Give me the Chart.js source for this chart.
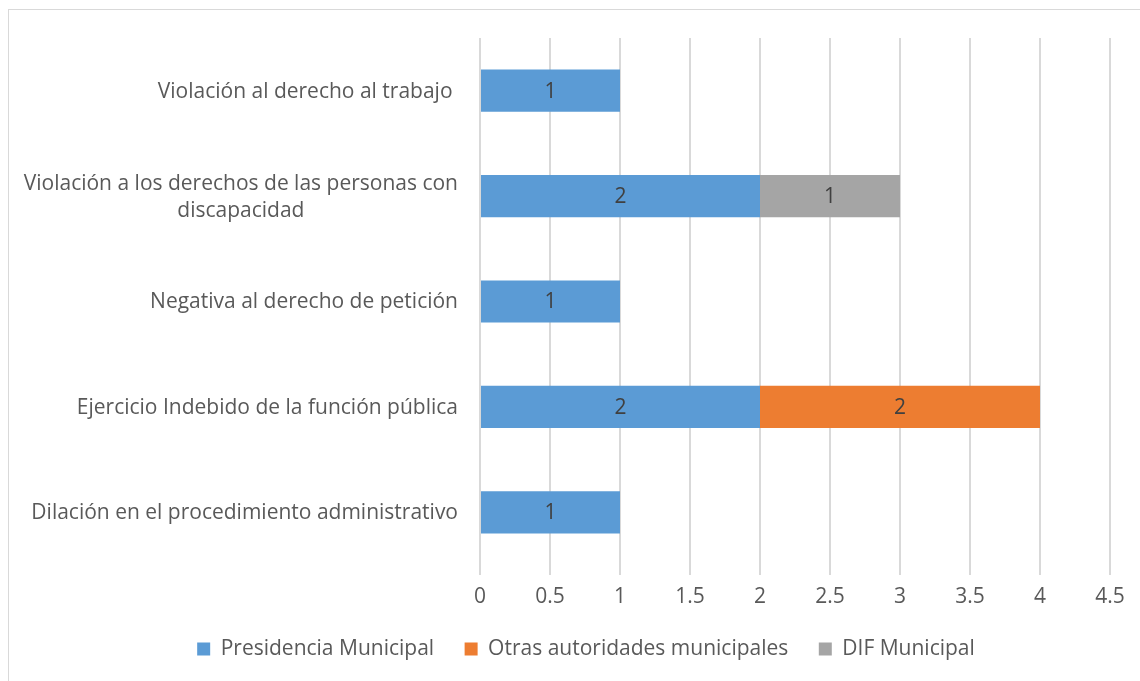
<!DOCTYPE html>
<html>
<head>
<meta charset="utf-8">
<script src="https://cdn.jsdelivr.net/npm/chart.js@4/dist/chart.umd.min.js"></script>
<style>
  html, body { margin: 0; padding: 0; background: #fff; }
  #frame {
    position: absolute; left: 8px; top: 9px; width: 1140px; height: 680px;
    border-left: 1px solid #d9d9d9; border-top: 1px solid #d9d9d9;
  }
  #wrap { position: absolute; left: 0; top: 0; width: 1140px; height: 681px; }
</style>
</head>
<body>
<div id="frame"></div>
<div id="wrap"><canvas id="chart"></canvas></div>
<script>
const categories = [
  "Violación al derecho al trabajo ",
  ["Violación a los derechos de las personas con", "discapacidad"],
  "Negativa al derecho de petición",
  "Ejercicio Indebido de la función pública",
  "Dilación en el procedimiento administrativo"
];
const presidencia = [1, 2, 1, 2, 1];
const otras = [0, 0, 0, 2, 0];
const dif = [0, 1, 0, 0, 0];
const xTicks = [0, 0.5, 1, 1.5, 2, 2.5, 3, 3.5, 4, 4.5];

const FONT = "'Open Sans', sans-serif";
const SIZE = 21;
const TEXT = "#595959";

// value labels in the middle of each bar (zeros skipped)
const barLabels = {
  id: "barLabels",
  afterDatasetsDraw(chart) {
    const ctx = chart.ctx;
    ctx.save();
    ctx.font = SIZE + "px " + FONT;
    ctx.fillStyle = "#404040";
    ctx.textAlign = "center";
    ctx.textBaseline = "middle";
    chart.data.datasets.forEach((ds, i) => {
      chart.getDatasetMeta(i).data.forEach((bar, j) => {
        const v = ds.data[j];
        if (!v) return;
        ctx.fillText(String(v), (bar.x + bar.base) / 2, bar.y + 1);
      });
    });
    ctx.restore();
  }
};

// category labels: right aligned, lines of a wrapped label centred on each other
const catLabels = {
  id: "catLabels",
  afterDraw(chart) {
    const ctx = chart.ctx;
    const y = chart.scales.y;
    const right = chart.chartArea.left - 22;
    const lh = 27;
    ctx.save();
    ctx.font = SIZE + "px " + FONT;
    ctx.fillStyle = TEXT;
    ctx.textBaseline = "middle";
    ctx.textAlign = "center";
    chart.data.labels.forEach((lab, i) => {
      const lines = Array.isArray(lab) ? lab : [lab];
      const w = Math.max(...lines.map(l => ctx.measureText(l).width));
      const top = y.getPixelForTick(i) + 1 - (lines.length - 1) * lh / 2;
      lines.forEach((l, k) => ctx.fillText(l, right - w / 2, top + k * lh));
    });
    ctx.restore();
  }
};

new Chart(document.getElementById("chart"), {
  type: "bar",
  data: {
    labels: categories,
    datasets: [
      { label: "Presidencia Municipal", data: presidencia, backgroundColor: "#5B9BD5" },
      { label: "Otras autoridades municipales", data: otras, backgroundColor: "#ED7D31" },
      { label: "DIF Municipal", data: dif, backgroundColor: "#A5A5A5" }
    ]
  },
  options: {
    indexAxis: "y",
    responsive: true,
    maintainAspectRatio: false,
    animation: false,
    layout: { padding: { top: 38, right: 30, left: 62, bottom: 11.5 } },
    datasets: { bar: { barPercentage: 0.4, categoryPercentage: 1.0 } },
    scales: {
      x: {
        stacked: true,
        min: 0, max: 4.5,
        afterBuildTicks(axis) { axis.ticks = xTicks.map(v => ({ value: v })); },
        grid: {
          color: "#D9D9D9", lineWidth: 2, drawTicks: true, tickLength: 22,
          tickColor: "#D9D9D9", tickBorderDash: [10, 80]
        },
        border: { display: false },
        ticks: {
          color: TEXT, font: { family: FONT, size: SIZE, lineHeight: 1 }, padding: 0,
          callback: v => String(v)
        }
      },
      y: {
        stacked: true,
        grid: { display: false },
        border: { display: false },
        afterFit(axis) { axis.width = 418; },
        ticks: { display: false }
      }
    },
    plugins: {
      legend: {
        position: "bottom",
        labels: { color: TEXT, font: { family: FONT, size: SIZE }, boxWidth: 13, boxHeight: 13, padding: 30.5 }
      },
      tooltip: { enabled: false }
    }
  },
  plugins: [barLabels, catLabels]
});
</script>
</body>
</html>
